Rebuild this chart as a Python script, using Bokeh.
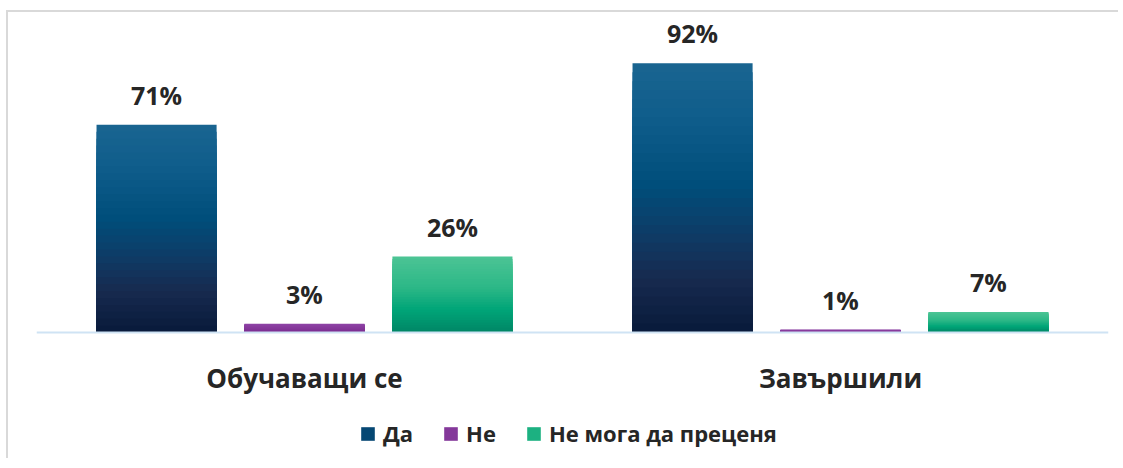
from bokeh.plotting import figure
from bokeh.models import (ColumnDataSource, FactorRange, Range1d, LabelSet, Legend, LegendItem,
                          CategoricalAxis)
from bokeh.transform import dodge
from bokeh.core.properties import value
from bokeh.embed import file_html
from bokeh.resources import INLINE

# ---- data ----
categories = ["Обучаващи се", "Завършили"]
series = ["Да", "Не", "Не мога да преценя"]
da = [71, 92]
ne = [3, 1]
ne_moga = [26, 7]
values = [da, ne, ne_moga]

# ---- styling ----
offsets = [-0.276, 0.0, 0.276]
bar_width = 0.224
gradients = [
    [(0.0, "#081a3a"), (0.2, "#172a4f"), (0.35, "#0f3a64"), (0.55, "#004e7b"), (0.8, "#0f5d8b"), (1.0, "#1a6591")],
    [(0.0, "#7a2b8e"), (1.0, "#8f45a6")],
    [(0.0, "#008565"), (0.3, "#00a578"), (0.6, "#2db887"), (1.0, "#4cc495")],
]
TEXT = "#262626"
FONT = "Open Sans"


def hex2rgb(h):
    h = h.lstrip("#")
    return tuple(int(h[i:i + 2], 16) for i in (0, 2, 4))


def interp(stops, t):
    for (t0, c0), (t1, c1) in zip(stops[:-1], stops[1:]):
        if t0 <= t <= t1:
            f = 0 if t1 == t0 else (t - t0) / (t1 - t0)
            a, b = hex2rgb(c0), hex2rgb(c1)
            return "#%02x%02x%02x" % tuple(round(x + (y - x) * f) for x, y in zip(a, b))
    return stops[-1][1]


p = figure(
    x_range=FactorRange(factors=categories),
    y_range=Range1d(-43.7, 108),
    width=1112, height=448,
    min_border_left=28, min_border_right=12, min_border_top=4, min_border_bottom=0,
    x_axis_location=None, y_axis_location=None,
    output_backend="svg", toolbar_location=None,
)
p.styles = {"border-top": "2px solid #d9d9d9", "border-left": "2px solid #d9d9d9",
            "margin-top": "10px", "margin-left": "6px"}

N = 30
renderers = []
for s, (vals, off, stops) in enumerate(zip(values, offsets, gradients)):
    cat_col, top_col, col_col = [], [], []
    for k in range(N, 0, -1):
        frac = k / N
        for c, v in zip(categories, vals):
            cat_col.append(c)
            top_col.append(v * frac)
            col_col.append(interp(stops, (k - 0.5) / N))
    src = ColumnDataSource(dict(cat=cat_col, top=top_col, color=col_col))
    r = p.vbar(x=dodge("cat", off, range=p.x_range), top="top", bottom=0, width=bar_width,
               source=src, fill_color="color", line_color=None)
    renderers.append(r)

    lsrc = ColumnDataSource(dict(cat=categories, val=vals, txt=[f"{v}%" for v in vals]))
    labels = LabelSet(x=dodge("cat", off, range=p.x_range), y="val", text="txt", source=lsrc,
                      text_align="center", text_baseline="alphabetic", y_offset=20,
                      text_font=value(FONT), text_font_style="bold", text_font_size="25px",
                      text_color=TEXT)
    p.add_layout(labels)

items = []
for name, r in zip(series, renderers):
    items.append(LegendItem(label=name, renderers=[r], index=len(categories) * (N // 2)))
legend = Legend(items=items, location=(323, 12), orientation="horizontal",
                glyph_width=17, glyph_height=17, label_standoff=7, spacing=29,
                padding=0, margin=0, border_line_color=None, background_fill_alpha=0,
                label_text_font=FONT, label_text_font_style="bold", label_text_font_size="22px",
                label_text_color=TEXT)
p.add_layout(legend, "center")

xaxis = CategoricalAxis(fixed_location=0)
xaxis.axis_line_color = "#cfe3f4"
xaxis.axis_line_width = 2
xaxis.major_tick_line_color = None
xaxis.minor_tick_line_color = None
xaxis.major_tick_out = 0
xaxis.major_tick_in = 0
xaxis.major_label_text_font = FONT
xaxis.major_label_text_font_style = "bold"
xaxis.major_label_text_font_size = "26px"
xaxis.major_label_text_color = TEXT
xaxis.major_label_standoff = 27
p.add_layout(xaxis, "below")

p.xgrid.grid_line_color = None
p.ygrid.grid_line_color = None
p.outline_line_color = None

open("out.html", "w").write(file_html(p, INLINE))
